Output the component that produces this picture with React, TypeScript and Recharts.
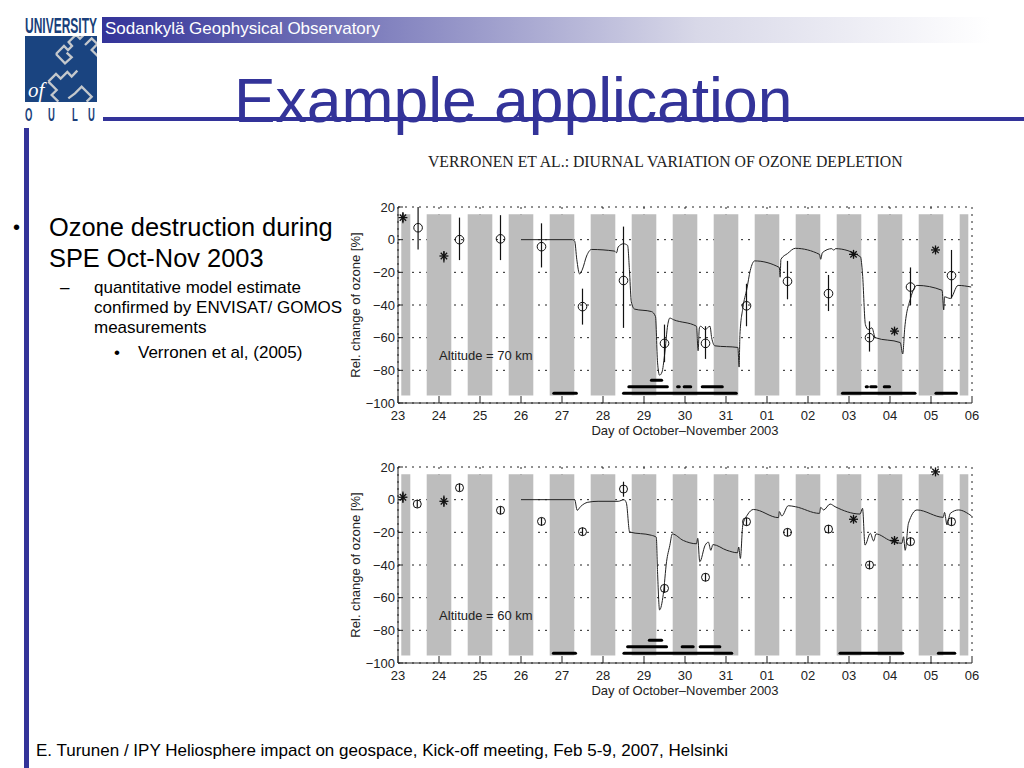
import React from "react";
import {
  CartesianGrid,
  ComposedChart,
  ErrorBar,
  Label,
  Line,
  ReferenceArea,
  ReferenceDot,
  Scatter,
  XAxis,
  YAxis,
} from "recharts";

const FONT = '"Liberation Sans", Arial, sans-serif';
const BLUE = "#333399";

// days are counted from 1 October, so 1 November is day 32
const dayTicks = [23, 24, 25, 26, 27, 28, 29, 30, 31, 32, 33, 34, 35, 36, 37];
const dayLabels = ["23", "24", "25", "26", "27", "28", "29", "30", "31", "01", "02", "03", "04", "05", "06"];
const ozoneTicks = [-100, -80, -60, -40, -20, 0, 20];

const nightBands = [
  [23.08, 23.3], [23.7, 24.3], [24.7, 25.3], [25.7, 26.3], [26.7, 27.3], [27.7, 28.3], [28.7, 29.3],
  [29.7, 30.3], [30.7, 31.3], [31.7, 32.3], [32.7, 33.3], [33.7, 34.3], [34.7, 35.3], [35.7, 36.3], [36.7, 36.91],
];

const model70 = [
  [26, 0], [27.25, 0], [27.31, -1], [27.36, -12], [27.43, -21], [27.5, -18], [27.6, -10], [27.72, -6], [28.28, -7],
  [28.33, -8], [28.37, -4.5], [28.5, -2.5], [28.6, -3.5], [28.65, -21], [28.69, -38], [28.77, -42.5], [29.18, -44],
  [29.28, -47], [29.33, -75], [29.38, -83], [29.44, -81], [29.5, -71], [29.58, -52], [29.63, -48], [29.72, -49],
  [30.28, -53], [30.32, -68], [30.35, -54], [30.38, -53], [30.49, -55], [30.61, -53], [30.65, -60], [30.73, -65],
  [31.29, -66], [31.32, -78], [31.34, -58], [31.41, -42], [31.51, -30], [31.59, -19], [31.7, -13], [32.3, -17],
  [32.32, -23], [32.34, -12], [32.5, -8.5], [32.69, -5.3], [33.28, -9], [33.31, -12], [33.35, -8], [33.58, -5.5],
  [33.63, -6.5], [33.67, -5.5], [34.28, -10.5], [34.33, -21], [34.4, -52], [34.47, -55], [34.56, -54], [34.64, -60],
  [35.25, -63], [35.31, -70], [35.36, -54], [35.5, -36], [35.66, -28], [36.27, -31], [36.31, -43], [36.33, -35],
  [36.47, -36], [36.66, -28], [36.98, -29],
];

const model60 = [
  [26, 0], [27.31, 0], [27.37, -6.5], [27.45, -4.3], [27.63, -1.6], [27.88, -1], [28.37, -1], [28.51, 0], [28.57, -2],
  [28.65, -19.8], [29.18, -21.8], [29.3, -23], [29.33, -44], [29.38, -67.5], [29.47, -58], [29.55, -38], [29.63, -28],
  [29.69, -21], [29.96, -25], [30.28, -27], [30.31, -23.7], [30.36, -38], [30.49, -28], [30.57, -26], [30.63, -31],
  [30.68, -27.5], [31.02, -31], [31.28, -32.5], [31.31, -29], [31.35, -36], [31.41, -15.5], [31.52, -9.4], [31.67, -6],
  [32.28, -11], [32.3, -7.3], [32.36, -10], [32.52, -3.7], [32.69, -4.3], [33.28, -8.4], [33.31, -4.7], [33.38, -6.3],
  [33.54, -2.7], [33.66, -4.3], [34.27, -8.8], [34.33, -5.3], [34.39, -27.8], [34.52, -20.6], [34.6, -25.3],
  [34.66, -21], [35, -25], [35.29, -26.7], [35.33, -22.7], [35.37, -31], [35.45, -14.5], [35.66, -6.3], [36.3, -10.8],
  [36.33, -7.8], [36.39, -15.5], [36.47, -8.4], [36.67, -6.3], [36.99, -10],
];

// [day, value, lower end of error bar, upper end of error bar]
const circles70 = [
  [23.49, 7.3, -6, 20], [24.5, 0, -12.5, 13.5], [25.5, 0.5, -12.5, 15], [26.5, -4.3, -17, 10], [27.5, -41, -52, -30],
  [28.5, -25, -54, 8], [29.5, -63.5, -75, -52], [30.5, -63.5, -73, -53], [31.5, -40.5, -53, -27], [32.5, -25.5, -36.5, -13],
  [33.5, -33, -43.7, -21.6], [34.5, -60, -68.5, -50], [35.5, -29, -40, -17], [36.5, -22, -36, -6.3],
];
const stars70 = [
  [23.12, 13.5, 10, 17], [24.12, -10, -14, -7], [34.11, -9, -11, -7], [35.11, -56, -58, -54], [36.11, -6.3, -8, -4.5],
];

const circles60 = [
  [23.47, -2.7, -5, 0], [24.5, 7.3, 5, 10], [25.5, -6.5, -9, -4], [26.5, -13.3, -16, -11], [27.5, -19.6, -22, -17],
  [28.5, 6.5, 1.8, 11], [29.5, -54.3, -57, -52], [30.5, -47.5, -50, -45], [31.5, -13.5, -16, -11], [32.5, -20, -22.5, -17.5],
  [33.5, -18, -20.5, -15.5], [34.5, -40, -42.5, -37.5], [35.5, -25.7, -28, -23], [36.5, -13.5, -16, -11],
];
const stars60 = [
  [23.12, 1.5, -2, 5], [24.12, -1, -4.5, 2.5], [34.11, -12, -14, -10], [35.11, -25, -27, -23], [36.11, 17, 15, 19],
];

// satellite coverage strips: [level, first day, last day]
const coverage70 = [
  [-94, 26.8, 27.35], [-94, 28.5, 31.25], [-94, 33.84, 35.61], [-94, 36.12, 36.62],
  [-90, 28.63, 29.57], [-90, 29.82, 29.86], [-90, 29.98, 30.14], [-90, 30.42, 30.91],
  [-90, 34.42, 34.45], [-90, 34.53, 34.66], [-90, 34.86, 34.99], [-86, 29.18, 29.43],
];
const coverage60 = [
  [-94, 26.79, 27.33], [-94, 28.51, 31.14], [-94, 33.78, 35.31], [-94, 36.18, 36.58],
  [-90, 28.6, 29.55], [-90, 29.93, 30.2], [-90, 30.37, 30.85], [-86, 29.13, 29.43],
];

const points = (rows: number[][]) =>
  rows.map(([day, value, low, high]) => ({ day, value, err: [value - low, high - value] }));

const Circle = (r: number) => (props: any) => (
  <circle cx={props.cx} cy={props.cy} r={r} fill="none" stroke="#111" strokeWidth={1} />
);

const Star = (props: any) => {
  const { cx, cy } = props;
  return (
    <g stroke="#111" strokeWidth={1.3}>
      <line x1={cx - 4.5} y1={cy} x2={cx + 4.5} y2={cy} />
      <line x1={cx} y1={cy - 4.5} x2={cx} y2={cy + 4.5} />
      <line x1={cx - 3.2} y1={cy - 3.2} x2={cx + 3.2} y2={cy + 3.2} />
      <line x1={cx - 3.2} y1={cy + 3.2} x2={cx + 3.2} y2={cy - 3.2} />
    </g>
  );
};

const axisFont = { fontFamily: FONT, fontSize: 13, fill: "#222" };
const formatDay = (d: number) => dayLabels[dayTicks.indexOf(d)];
const formatOzone = (v: number) => String(v).replace("-", "\u2212");

const OzonePanel = ({ model, circles, stars, coverage, title, radius, top }: any) => (
  <div style={{ position: "absolute", left: 345, top }}>
    <ComposedChart
      width={640}
      height={245}
      margin={{ top: 12, right: 13, bottom: 0, left: 5 }}
      style={{ fontFamily: FONT }}
    >
      <CartesianGrid stroke="#222" strokeDasharray="2 5" ticks={dayTicks as any} />
      <XAxis
        dataKey="day"
        type="number"
        domain={[23, 37]}
        ticks={dayTicks}
        interval={0}
        tickFormatter={formatDay}
        tick={axisFont}
        tickSize={-5}
        tickMargin={13}
        stroke="#222"
        height={37}
      >
        <Label value="Day of October–November 2003" position="insideBottom" offset={5} style={axisFont} />
      </XAxis>
      <XAxis
        xAxisId="top"
        orientation="top"
        type="number"
        domain={[23, 37]}
        ticks={dayTicks}
        interval={0}
        tick={false}
        tickSize={-3}
        height={0}
        stroke="#222"
        axisLine={{ strokeDasharray: "2 5" }}
      />
      <YAxis
        type="number"
        domain={[-100, 20]}
        ticks={ozoneTicks}
        interval={0}
        tickFormatter={formatOzone}
        tick={axisFont}
        tickSize={-5}
        tickMargin={8}
        stroke="#222"
        width={48}
      >
        <Label value="Rel. change of ozone [%]" angle={-90} position="insideLeft" offset={5} style={{ ...axisFont, textAnchor: "middle" }} />
      </YAxis>
      <YAxis
        yAxisId="right"
        orientation="right"
        type="number"
        domain={[-100, 20]}
        ticks={ozoneTicks}
        interval={0}
        tick={false}
        tickSize={-3}
        width={0}
        stroke="#222"
        axisLine={{ strokeDasharray: "2 5" }}
      />
      {nightBands.map(([from, to]) => (
        <ReferenceArea key={from} x1={from} x2={to} y1={-95.4} y2={15.5} fill="#bdbdbd" fillOpacity={1} stroke="none" />
      ))}
      <ReferenceDot
        x={23.88}
        y={-70.6}
        r={0}
        fill="none"
        stroke="none"
        label={{ value: title, position: "right", style: axisFont }}
      />
      {coverage.map(([level, from, to]: number[]) => (
        <Line
          key={`${level}-${from}`}
          data={[{ day: from, value: level }, { day: to, value: level }]}
          dataKey="value"
          stroke="#000"
          strokeWidth={3}
          strokeLinecap="round"
          dot={false}
          isAnimationActive={false}
        />
      ))}
      <Line
        data={model.map(([day, value]: number[]) => ({ day, value }))}
        dataKey="value"
        type="monotoneX"
        stroke="#222"
        strokeWidth={1}
        dot={false}
        isAnimationActive={false}
      />
      <Scatter data={points(circles)} dataKey="value" shape={Circle(radius)} isAnimationActive={false}>
        <ErrorBar dataKey="err" direction="y" width={0} stroke="#111" strokeWidth={1.2} isAnimationActive={false} />
      </Scatter>
      <Scatter data={points(stars)} dataKey="value" shape={Star} isAnimationActive={false}>
        <ErrorBar dataKey="err" direction="y" width={0} stroke="#111" strokeWidth={1.2} isAnimationActive={false} />
      </Scatter>
    </ComposedChart>
  </div>
);

const Text = ({ x, y, size, children, color = "#000", style }: any) => (
  <div
    style={{
      position: "absolute",
      left: x,
      top: y,
      fontSize: size,
      lineHeight: 1,
      whiteSpace: "nowrap",
      color,
      fontFamily: FONT,
      ...style,
    }}
  >
    {children}
  </div>
);

const meander = [
  "108,72 132,48 144,60 156,48 146,36 168,14 180,26 192,14",
  "108,72 135,100 155,82 140,68",
  "195,45 215,25 232,42 215,60 235,80",
  "85,155 108,132 122,146 142,126 155,140 172,122",
  "85,155 110,180 95,195 115,215",
  "145,205 165,190 185,170 215,200 200,215",
];
const ouluLetters = [["O", 25], ["U", 48], ["L", 72], ["U", 88]];

const Logo = () => (
  <svg width={100} height={124} style={{ position: "absolute", left: 0, top: 0 }}>
    <text transform="translate(25,32.5) scale(1,1.8)" fontFamily={FONT} fontWeight="bold" fontSize={12} fill="#1a3f7a">
      UNIVERSITY
    </text>
    <rect x={25} y={36} width={72} height={66} fill="#1a4480" />
    <svg x={25} y={36} width={72} height={66}>
      <g transform="translate(-5,-6) scale(0.3333)" fill="none" stroke="#c4c8cc" strokeWidth={7}>
        {meander.map((p) => (
          <polyline key={p} points={p} />
        ))}
      </g>
    </svg>
    <text x={28} y={97} fontFamily="Liberation Serif" fontStyle="italic" fontSize={21} fill="#fff">
      of
    </text>
    {ouluLetters.map(([letter, x]) => (
      <text key={x} transform={`translate(${x},121) scale(1,1.9)`} fontFamily={FONT} fontWeight="bold" fontSize={9.5} fill="#1a3f7a">
        {letter}
      </text>
    ))}
  </svg>
);

const App = () => (
  <div style={{ position: "absolute", left: 0, top: 0, width: 1024, height: 768, overflow: "hidden", background: "#fff" }}>
    <Logo />
    <div
      style={{
        position: "absolute",
        left: 102,
        top: 17,
        width: 888,
        height: 26,
        background: `linear-gradient(to right, ${BLUE} 0%, #d8d8e8 67%, #ffffff 100%)`,
      }}
    />
    <Text x={105} y={19.5} size={17} color="#fff">
      Sodankylä Geophysical Observatory
    </Text>
    <div style={{ position: "absolute", left: 103, top: 117, width: 921, height: 4, background: BLUE }} />
    <div style={{ position: "absolute", left: 24, top: 128, width: 5, height: 640, background: BLUE }} />
    <Text x={234} y={70} size={62.4} color={BLUE}>
      Example application
    </Text>

    <Text x={13} y={217} size={20}>•</Text>
    <Text x={49} y={215} size={25.4}>Ozone destruction during</Text>
    <Text x={49} y={245.5} size={25.4}>SPE Oct-Nov 2003</Text>
    <Text x={60} y={278.5} size={17}>–</Text>
    <Text x={94} y={278.5} size={17}>quantitative model estimate</Text>
    <Text x={94} y={298.5} size={17}>confirmed by ENVISAT/ GOMOS</Text>
    <Text x={94} y={318.5} size={17}>measurements</Text>
    <Text x={114} y={343.5} size={17}>•</Text>
    <Text x={138} y={343.5} size={17}>Verronen et al, (2005)</Text>

    <Text x={428} y={154} size={15.75} color="#222" style={{ fontFamily: '"Liberation Serif", serif' }}>
      VERRONEN ET AL.: DIURNAL VARIATION OF OZONE DEPLETION
    </Text>

    <OzonePanel model={model70} circles={circles70} stars={stars70} coverage={coverage70} title="Altitude = 70 km" radius={4.3} top={195} />
    <OzonePanel model={model60} circles={circles60} stars={stars60} coverage={coverage60} title="Altitude = 60 km" radius={4} top={455} />

    <Text x={36} y={741.5} size={17}>
      E. Turunen / IPY Heliosphere impact on geospace, Kick-off meeting, Feb 5-9, 2007, Helsinki
    </Text>
  </div>
);

export default App;
